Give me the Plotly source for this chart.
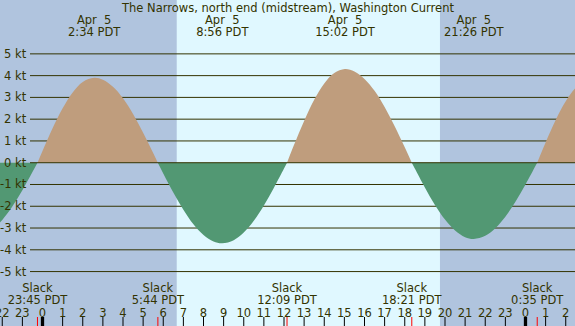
import plotly.graph_objects as go

# ---------------- data (hours from Apr 5 00:00 PDT) ----------------
curve_hours = [-2.5, -2.25, -2.0, -1.5, -1.0, -0.5, -0.25,
               0.0, 0.5, 1.0, 1.5, 2.0, 2.57, 3.0, 3.5, 4.0, 4.5, 5.0, 5.5, 5.73,
               6.0, 6.5, 7.0, 7.5, 8.0, 8.5, 8.93, 9.5, 10.0, 10.5, 11.0, 11.5, 12.0, 12.15,
               12.5, 13.0, 13.5, 14.0, 14.5, 15.03, 15.5, 16.0, 16.5, 17.0, 17.5, 18.0, 18.35,
               18.5, 19.0, 19.5, 20.0, 20.5, 21.0, 21.43, 22.0, 22.5, 23.0, 23.5, 24.0, 24.5, 24.58,
               25.0, 25.5, 26.0, 26.5, 27.0]
curve_knots = [-3.09, -2.88, -2.63, -2.01, -1.26, -0.43, 0.0,
               0.54, 1.58, 2.50, 3.23, 3.71, 3.90, 3.81, 3.49, 2.96, 2.24, 1.38, 0.45, 0.0,
               -0.49, -1.37, -2.16, -2.83, -3.32, -3.62, -3.70, -3.56, -3.21, -2.67, -1.97, -1.15, -0.27, 0.0,
               0.82, 1.92, 2.89, 3.64, 4.12, 4.30, 4.19, 3.85, 3.30, 2.56, 1.68, 0.71, 0.0,
               -0.27, -1.14, -1.94, -2.61, -3.11, -3.42, -3.50, -3.36, -3.01, -2.48, -1.79, -1.00, -0.14, 0.0,
               0.93, 1.96, 2.82, 3.44, 3.76]

max_hours = [-3.43, 2.567, 8.933, 15.033, 21.433, 27.25]
max_dates = ["Apr\u00a0 4", "Apr\u00a0 5", "Apr\u00a0 5", "Apr\u00a0 5", "Apr\u00a0 5", "Apr\u00a0 6"]
max_times = ["20:34 PDT", "2:34 PDT", "8:56 PDT", "15:02 PDT", "21:26 PDT", "3:15 PDT"]

slack_hours = [-0.25, 5.733, 12.15, 18.35, 24.583]
slack_times = ["23:45 PDT", "5:44 PDT", "12:09 PDT", "18:21 PDT", "0:35 PDT"]

hour_ticks = list(range(-2, 27))
hour_labels = [str(h % 24) for h in hour_ticks]
midnights = [0, 24]

sunrise_hour = 6.67
sunset_hour = 19.75

kt_levels = [5, 4, 3, 2, 1, 0, -1, -2, -3, -4, -5]
kt_labels = ["5 kt", "4 kt", "3 kt", "2 kt", "1 kt", "0 kt", "-1 kt", "-2 kt", "-3 kt", "-4 kt", "-5 kt"]

title = "The Narrows, north end (midstream), Washington Current"

# ---------------- style ----------------
W, H = 575, 326
NIGHT = "#b0c4de"
DAY = "#e0f8ff"
FLOOD = "#bf9d7d"
EBB = "#529873"
INK = "#333300"
FONT = "DejaVu Sans"
FS = 11.5

X0, X1 = -2.112, 26.46
Y0, Y1 = -7.50, 7.474


def ypix(p):
    """pixel row -> knots (for label placement)"""
    return Y1 - p * (Y1 - Y0) / H


fig = go.Figure()

# split curve into lobes between zero crossings
segs = []
cur = []
for t, v in zip(curve_hours, curve_knots):
    cur.append((t, v))
    if v == 0 and len(cur) > 1:
        segs.append(cur)
        cur = [(t, v)]
if len(cur) > 1:
    segs.append(cur)

for seg in segs:
    xs = [p[0] for p in seg]
    ys = [p[1] for p in seg]
    col = FLOOD if sum(ys) > 0 else EBB
    fig.add_trace(go.Scatter(x=xs, y=ys, mode="lines", line=dict(width=0, shape="spline", color=col),
                             fill="tozeroy", fillcolor=col, hoverinfo="skip", showlegend=False))

shapes = []
# day background
shapes.append(dict(type="rect", xref="x", yref="paper", x0=sunrise_hour, x1=sunset_hour, y0=0, y1=1,
                   fillcolor=DAY, line=dict(width=0), layer="below"))
# grid lines
for k in kt_levels:
    shapes.append(dict(type="line", xref="paper", yref="y", x0=30 / W, x1=1, y0=k, y1=k,
                       line=dict(color=INK, width=1), layer="below" if k != 0 else "above"))
# hour ticks
for h in hour_ticks:
    shapes.append(dict(type="line", xref="x", yref="paper", x0=h, x1=h, y0=0, y1=9 / H,
                       line=dict(color="black", width=1), layer="above"))
for h in midnights:
    shapes.append(dict(type="line", xref="x", yref="paper", x0=h, x1=h, y0=0, y1=9 / H,
                       line=dict(color="black", width=3.3), layer="above"))
for h in slack_hours:
    shapes.append(dict(type="line", xref="x", yref="paper", x0=h, x1=h, y0=0, y1=9 / H,
                       line=dict(color="red", width=1), layer="above"))

tf = dict(family=FONT, size=FS, color=INK)

def text_row(xs, texts, yp):
    fig.add_trace(go.Scatter(x=xs, y=[ypix(yp)] * len(xs), mode="text", text=texts,
                             textposition="middle center", textfont=tf, cliponaxis=False,
                             hoverinfo="skip", showlegend=False))

text_row(max_hours, max_dates, 21)
text_row(max_hours, max_times, 33)
text_row(slack_hours, ["Slack"] * len(slack_hours), 289)
text_row(slack_hours, slack_times, 301.5)
text_row(hour_ticks, hour_labels, 314.5)

annotations = [dict(text=title, xref="paper", yref="paper", x=0.5, y=1 - 8 / H, showarrow=False,
                    xanchor="center", yanchor="middle", font=tf)]
for k, lab in zip(kt_levels, kt_labels):
    annotations.append(dict(text=lab, xref="paper", yref="y", x=28.5 / W, y=k, showarrow=False,
                            xanchor="right", yanchor="middle", font=tf, xshift=0))

fig.update_layout(
    width=W, height=H, autosize=False,
    margin=dict(l=0, r=0, t=0, b=0, pad=0),
    paper_bgcolor=NIGHT, plot_bgcolor=NIGHT,
    xaxis=dict(range=[X0, X1], showgrid=False, zeroline=False, showticklabels=False, ticks="", fixedrange=True),
    yaxis=dict(range=[Y0, Y1], showgrid=False, zeroline=False, showticklabels=False, ticks="", fixedrange=True),
    shapes=shapes, annotations=annotations, showlegend=False,
)

fig.write_html("out.html", config={"displayModeBar": False},
               post_script="document.body.style.margin='0';")
